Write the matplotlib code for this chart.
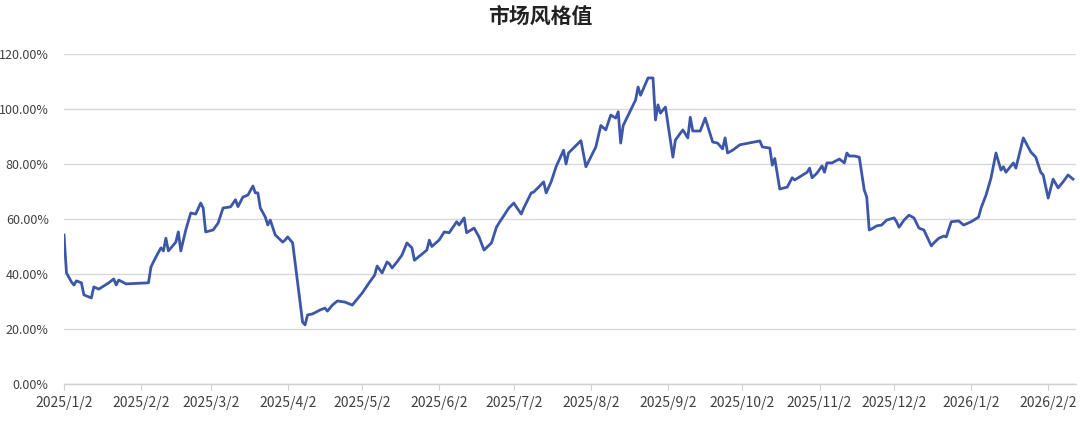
import numpy as np
import pandas as pd
import matplotlib
matplotlib.use('Agg')
import matplotlib.pyplot as plt
import matplotlib.dates as mdates
from matplotlib.ticker import FuncFormatter

plt.rcParams['font.family'] = ['Noto Sans CJK SC', 'DejaVu Sans']

# data (value in %)
dates_2025 = [
    '01-02', '01-03', '01-05', '01-06', '01-07', '01-09', '01-10', '01-13', '01-14', '01-16',
    '01-20', '01-22', '01-23', '01-24', '01-27', '02-05', '02-06', '02-08', '02-10', '02-11',
    '02-12', '02-13', '02-16', '02-17', '02-18', '02-20', '02-22', '02-24', '02-26', '02-27',
    '02-28', '03-03', '03-05', '03-07', '03-10', '03-12', '03-13', '03-15', '03-17', '03-19',
    '03-20', '03-21', '03-22', '03-24', '03-25', '03-26', '03-28', '03-31', '04-01', '04-02',
    '04-04', '04-08', '04-09', '04-10', '04-12', '04-15', '04-17', '04-18', '04-20', '04-22',
    '04-25', '04-28', '05-02', '05-05', '05-07', '05-08', '05-10', '05-12', '05-13', '05-14',
    '05-16', '05-18', '05-20', '05-22', '05-23', '05-28', '05-29', '05-30', '06-02', '06-04',
    '06-06', '06-09', '06-10', '06-12', '06-13', '06-16', '06-18', '06-20', '06-23', '06-25',
    '06-26', '06-30', '07-02', '07-03', '07-05', '07-06', '07-09', '07-10', '07-12', '07-14',
    '07-15', '07-17', '07-19', '07-22', '07-23', '07-24', '07-29', '07-31', '08-04', '08-06',
    '08-08', '08-10', '08-12', '08-13', '08-14', '08-15', '08-20', '08-21', '08-22', '08-25',
    '08-27', '08-28', '08-29', '08-30', '09-01', '09-04', '09-05', '09-08', '09-10', '09-11',
    '09-12', '09-15', '09-17', '09-20', '09-22', '09-24', '09-25', '09-26', '09-28', '10-01',
    '10-09', '10-10', '10-13', '10-14', '10-15', '10-17', '10-20', '10-22', '10-23', '10-25',
    '10-28', '10-29', '10-30', '11-01', '11-03', '11-04', '11-05', '11-07', '11-10', '11-12',
    '11-13', '11-14', '11-16', '11-18', '11-20', '11-21', '11-22', '11-23', '11-25', '11-27',
    '11-29', '12-02', '12-03', '12-04', '12-06', '12-08', '12-10', '12-12', '12-14', '12-17',
    '12-18', '12-20', '12-22', '12-23', '12-25', '12-28', '12-30',
]
values_2025 = [
    54.2, 40.4, 37.1, 36.0, 37.5, 36.8, 32.4, 31.3, 35.3, 34.5,
    36.8, 38.2, 36.0, 37.8, 36.4, 36.8, 42.6, 46.2, 49.5, 48.4,
    53.0, 48.4, 51.6, 55.3, 48.4, 56.0, 62.2, 61.8, 65.8, 64.0,
    55.3, 56.0, 58.5, 64.0, 64.4, 67.0, 64.5, 68.0, 68.7, 72.0,
    69.5, 69.5, 64.0, 60.7, 57.8, 59.6, 54.2, 51.6, 52.4, 53.5,
    51.3, 22.5, 21.5, 25.1, 25.5, 26.9, 27.6, 26.5, 28.7, 30.2,
    29.8, 28.7, 33.1, 37.1, 39.6, 42.9, 40.4, 44.4, 43.6, 42.2,
    44.4, 46.9, 51.3, 49.5, 45.0, 48.7, 52.3, 50.0, 52.4, 55.3,
    55.0, 59.0, 57.8, 60.4, 55.0, 56.7, 53.5, 48.7, 51.3, 57.0,
    58.5, 64.0, 65.8, 64.4, 61.8, 64.0, 69.5, 69.8, 71.6, 73.5,
    69.5, 73.5, 79.0, 85.0, 80.0, 84.0, 88.5, 79.0, 86.2, 94.0,
    92.4, 97.8, 96.7, 99.0, 87.6, 94.0, 103.3, 108.0, 105.0, 111.3,
    111.3, 96.0, 101.5, 98.5, 100.7, 82.5, 88.7, 92.4, 89.5, 97.0,
    92.0, 92.0, 96.7, 88.0, 87.6, 85.5, 89.5, 84.0, 85.0, 87.0,
    88.4, 86.2, 85.8, 79.6, 82.0, 70.9, 71.6, 75.0, 74.2, 75.3,
    77.0, 78.5, 75.0, 76.7, 79.3, 77.0, 80.4, 80.4, 81.8, 80.4,
    84.0, 82.9, 82.9, 82.5, 70.5, 68.0, 56.0, 56.4, 57.5, 57.8,
    59.6, 60.4, 59.0, 57.0, 59.6, 61.4, 60.4, 56.7, 56.0, 50.2,
    51.3, 53.0, 53.8, 53.5, 59.0, 59.3, 57.8,
]
dates_2026 = [
    '01-02', '01-05', '01-06', '01-08', '01-10', '01-12', '01-14', '01-15', '01-16', '01-19',
    '01-20', '01-23', '01-26', '01-28', '01-30', '01-31', '02-02', '02-04', '02-06', '02-08',
    '02-10', '02-12',
]
values_2026 = [
    59.0, 60.7, 64.0, 68.7, 74.9, 84.0, 77.8, 79.0, 77.0, 80.4,
    78.5, 89.5, 84.4, 82.5, 77.0, 76.0, 67.6, 74.5, 71.3, 73.5,
    76.0, 74.5,
]

dates = pd.to_datetime(['2025-' + d for d in dates_2025] + ['2026-' + d for d in dates_2026])
values = np.array(values_2025 + values_2026)

month_ticks = pd.date_range('2025-01-02', periods=14, freq=pd.DateOffset(months=1))

######################################

fig = plt.figure(figsize=(10.8, 4.22), dpi=100)
ax = fig.add_axes([64/1080, 1 - 384/422, 1012/1080, 330/422])

ax.plot(dates, values, c='#3d57a8', lw=2.0, solid_joinstyle='round')

ax.set_ylim(0, 120)
ax.set_yticks(np.arange(0, 121, 20))
ax.yaxis.set_major_formatter(FuncFormatter(lambda v, p: f'{v:.2f}%'))
ax.set_xlim(pd.Timestamp('2025-01-02'), pd.Timestamp('2025-01-02') + pd.Timedelta(days=407.2))
ax.set_xticks(month_ticks)
ax.set_xticklabels([f'{d.year}/{d.month}/{d.day}' for d in month_ticks])

ax.grid(axis='y', color='#d9d9d9', lw=1.0)
ax.set_axisbelow(True)
for s in ['top', 'right', 'left']:
    ax.spines[s].set_visible(False)
ax.spines['bottom'].set_color('#d0d0d0')
ax.spines['bottom'].set_linewidth(1.0)
ax.tick_params(axis='x', length=4, color='#d0d0d0', pad=5, labelsize=10, labelcolor='#404040')
ax.tick_params(axis='y', length=0, pad=11, labelsize=9, labelcolor='#404040')

fig.suptitle('市场风格值', x=540/1080, y=1 - 6/422, va='top', fontsize=15, fontweight='bold', color='#222222')

fig.savefig('out.png', dpi=100)
